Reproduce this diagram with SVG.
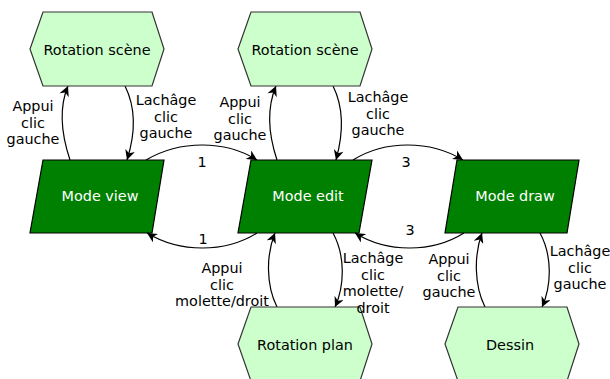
<svg xmlns="http://www.w3.org/2000/svg" width="610" height="379" viewBox="0 0 610 379">
<defs>
<marker id="arr" viewBox="0 0 10 10" markerUnits="userSpaceOnUse" markerWidth="11" markerHeight="10" refX="10" refY="5" orient="auto">
<path d="M0,0 L10,5 L0,10 L3,5 z" fill="#000"/>
</marker>
<style>
.hex{fill:#ccffcc;stroke:#333;stroke-width:1.2}
.mode{fill:#008000;stroke:#000;stroke-width:1.2}
.t{font-family:"DejaVu Sans",sans-serif;font-size:14.4px;fill:#000;text-anchor:middle}
.w{fill:#fff}
.e{fill:none;stroke:#000;stroke-width:1.2;marker-end:url(#arr)}
</style>
</defs>
<rect width="610" height="379" fill="#fff"/>
<g id="connectors">
<path class="e" d="M70,160 C60,130 60,105 68,86"/>
<path class="e" d="M125,86 C137,110 135,135 127,160"/>
<path class="e" d="M277,160 C267,130 268,105 276,86"/>
<path class="e" d="M333,86 C345,110 343,135 336,160"/>
<path class="e" d="M146,160 C180,140 225,140 257,160"/>
<path class="e" d="M353,160 C385,140 430,140 463,160"/>
<path class="e" d="M257,233 C225,253 180,253 147,233"/>
<path class="e" d="M464,233 C432,253 387,253 355,233"/>
<path class="e" d="M277,307 C266,285 266,255 275,233"/>
<path class="e" d="M333,233 C345,255 345,285 335,307"/>
<path class="e" d="M485,307 C474,285 474,255 482,233"/>
<path class="e" d="M540,233 C552,255 552,285 542,307"/>
</g>
<g id="rot-scene-1">
<polygon class="hex" points="43,12 152,12 164,49 152,86 43,86 30,49"/>
<text class="t" x="97" y="55">Rotation scène</text>
</g>
<g id="rot-scene-2">
<polygon class="hex" points="251,12 360,12 372,49 360,86 251,86 238,49"/>
<text class="t" x="305" y="55">Rotation scène</text>
</g>
<g id="mode-view">
<polygon class="mode" points="43,160 164,160 152,233 30,233"/>
<text class="t w" x="100" y="201">Mode view</text>
</g>
<g id="mode-edit">
<polygon class="mode" points="251,160 372,160 359,233 238,233"/>
<text class="t w" x="308" y="201">Mode edit</text>
</g>
<g id="mode-draw">
<polygon class="mode" points="457,160 579,160 567,233 445,233"/>
<text class="t w" x="515" y="201">Mode draw</text>
</g>
<g id="rot-plan">
<polygon class="hex" points="251,307 360,307 372,344 360,381 251,381 238,344"/>
<text class="t" x="305" y="350">Rotation plan</text>
</g>
<g id="dessin">
<polygon class="hex" points="458,307 567,307 579,344 567,381 458,381 445,344"/>
<text class="t" x="510" y="350">Dessin</text>
</g>
<g id="labels">
<text class="t" x="33" y="111">Appui</text>
<text class="t" x="33" y="127.5">clic</text>
<text class="t" x="33" y="144">gauche</text>
<text class="t" x="166" y="105">Lachâge</text>
<text class="t" x="166" y="121.5">clic</text>
<text class="t" x="166" y="138">gauche</text>
<text class="t" x="240" y="107">Appui</text>
<text class="t" x="240" y="123.5">clic</text>
<text class="t" x="240" y="140">gauche</text>
<text class="t" x="378" y="102">Lachâge</text>
<text class="t" x="378" y="118.5">clic</text>
<text class="t" x="378" y="135">gauche</text>
<text class="t" x="202" y="167">1</text>
<text class="t" x="406" y="167">3</text>
<text class="t" x="203" y="244">1</text>
<text class="t" x="410" y="235">3</text>
<text class="t" x="222" y="273">Appui</text>
<text class="t" x="222" y="289.5">clic</text>
<text class="t" x="222" y="306">molette/droit</text>
<text class="t" x="373" y="263">Lachâge</text>
<text class="t" x="373" y="279.5">clic</text>
<text class="t" x="373" y="296">molette/</text>
<text class="t" x="373" y="312.5">droit</text>
<text class="t" x="449" y="264">Appui</text>
<text class="t" x="449" y="280.5">clic</text>
<text class="t" x="449" y="297">gauche</text>
<text class="t" x="580" y="256">Lachâge</text>
<text class="t" x="580" y="272.5">clic</text>
<text class="t" x="580" y="289">gauche</text>
</g>
</svg>
